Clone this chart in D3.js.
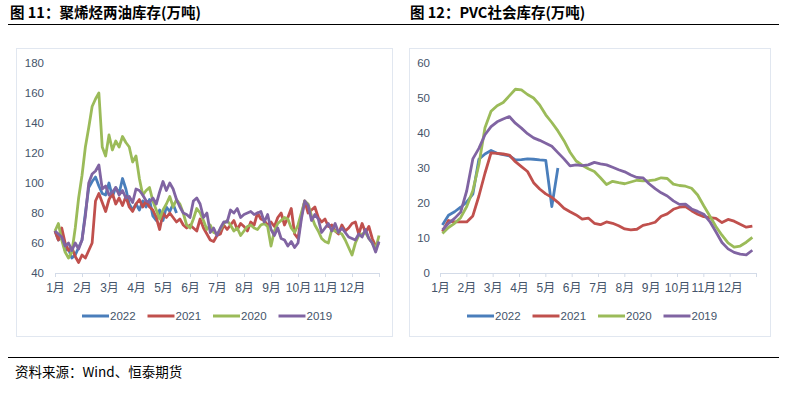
<!DOCTYPE html>
<html>
<head>
<meta charset="utf-8">
<script src="https://cdn.jsdelivr.net/npm/d3@7"></script>
<style>
  body { margin: 0; background: #fff; }
  svg { display: block; }
  .title { font-family: "Noto Sans CJK SC", sans-serif; font-weight: bold; font-size: 14.5px; fill: #000; }
  .src { font-family: "Noto Sans CJK SC", sans-serif; font-size: 13.5px; fill: #000; }
  .tick text, .legend text { font-family: "Liberation Sans", "Noto Sans CJK SC", sans-serif; fill: #44546a; }
</style>
</head>
<body>
<div id="chart"></div>
<script>
var months = ['1月', '2月', '3月', '4月', '5月', '6月', '7月', '8月', '9月', '10月', '11月', '12月']
var years = ['2022', '2021', '2020', '2019']

// 聚烯烃两油库存, 8 readings per month
var pe2022 = [68, 62, 64, 55, 56, 50, 52, 57, 62, 80, 97, 101, 104, 98, 93, 92, 100, 91, 97, 93,
  103, 96, 86, 82, 86, 82, 88, 84, 89, 78, 75, 82, 75, 84, 81, 86, 80]
var pe2021 = [68, 62, 70, 60, 55, 57, 51, 47, 52, 50, 55, 60, 88, 93, 87, 81, 89, 93, 86, 90,
  85, 91, 84, 81, 86, 89, 84, 88, 84, 82, 77, 69, 80, 77, 80, 77, 74, 76, 72, 70,
  72, 70, 68, 76, 70, 66, 62, 61, 65, 66, 72, 69, 72, 75, 69, 73, 71, 68, 74, 72,
  80, 76, 75, 72, 74, 71, 77, 80, 72, 77, 83, 66, 63, 78, 88, 80, 82, 84, 77, 74,
  76, 71, 72, 68, 66, 72, 68, 70, 73, 74, 66, 73, 67, 71, 63, 58, 60]
var pe2020 = [68, 73, 62, 54, 50, 54, 70, 90, 105, 124, 137, 151, 156, 160, 124, 118, 132, 122, 128, 124,
  131, 127, 124, 114, 118, 103, 92, 95, 97, 88, 82, 76, 82, 86, 91, 84, 89, 86, 80, 72,
  70, 76, 83, 80, 75, 69, 72, 67, 66, 69, 73, 75, 72, 68, 70, 65, 68, 71, 72, 70,
  69, 72, 73, 71, 58, 68, 73, 75, 77, 76, 70, 67, 72, 80, 88, 86, 78, 72, 68, 63,
  61, 60, 69, 68, 67, 66, 62, 57, 52, 60, 65, 66, 67, 63, 60, 56, 65]
var pe2019 = [68, 66, 64, 58, 60, 55, 60, 56, 62, 78, 100, 106, 108, 112, 96, 98, 92, 94, 97, 92,
  95, 90, 91, 87, 96, 95, 92, 88, 87, 90, 86, 94, 101, 95, 100, 96, 89, 84, 80, 79,
  77, 88, 90, 86, 77, 80, 67, 70, 65, 70, 74, 74, 82, 80, 83, 77, 79, 80, 81, 79,
  80, 81, 74, 79, 69, 65, 70, 63, 62, 58, 61, 57, 60, 76, 88, 85, 75, 79, 76, 67,
  70, 73, 68, 73, 67, 70, 67, 64, 63, 62, 66, 64, 69, 63, 60, 54, 61]

// PVC社会库存, weekly
var pvc2022 = [13.7, 16.5, 17.5, 18.8, 20.3, 22.5, 32.5, 34, 35, 34.2, 33.8, 33.5, 32.3, 32.4, 32.6, 32.5,
  32.3, 32.2, 19, 30]
var pvc2021 = [11.8, 15, 14.6, 14.6, 14.6, 16.3, 22, 28.5, 34.3, 34.2, 34, 33.7, 31.8, 30.4, 29, 25.8,
  24, 22.6, 21.6, 20.2, 18.5, 17.5, 16.6, 15.4, 15.7, 14.2, 13.8, 14.6, 14.2, 13.5, 12.6, 12.3,
  12.5, 13.6, 14, 14.5, 16.2, 16.9, 18.2, 18.8, 19, 17.8, 16.8, 16.1, 15.8, 15.6, 14.4, 15.3,
  14.8, 13.9, 13.1, 13.4]
var pvc2020 = [11.3, 13, 14.2, 15.8, 19, 23.5, 31, 41.5, 46.2, 47.8, 48.7, 50.6, 52.5, 52.3, 51, 50,
  48, 45.2, 43, 40.6, 37.8, 34.5, 32, 30.8, 29.8, 29, 27.2, 25.3, 26.2, 25.8, 25.5, 26,
  26.5, 26.3, 26.4, 26.6, 27.2, 27, 25.4, 25, 24.8, 24.2, 22.3, 19.2, 16.3, 13.3, 10.8, 8.6,
  7.4, 7.7, 8.8, 10.2]
var pvc2019 = [12.3, 14.2, 15.6, 17.4, 23.5, 32.6, 35.6, 39.5, 41.8, 43.2, 44, 44.7, 42.8, 41.4, 39.8, 38.6,
  37.9, 37.1, 36.2, 34.4, 32.6, 30.6, 30.9, 30.7, 30.9, 31.6, 31.2, 30.9, 30.2, 29.5, 28.9, 28,
  27.3, 27.2, 25.5, 24.1, 22.9, 22, 20.6, 19.6, 19.7, 18.3, 17.6, 16.8, 14.7, 11.8, 8.7, 6.9,
  5.9, 5.4, 5.2, 6.5]

var peTicks = [40, 60, 80, 100, 120, 140, 160, 180]
var pvcTicks = [0, 10, 20, 30, 40, 50, 60]

var colors = { 2022: '#4a7ebb', 2021: '#c0504d', 2020: '#9bbb59', 2019: '#8064a2' }

var svg = d3.select('#chart').append('svg')
  .attr('width', 786)
  .attr('height', 397)

function lineChart (g, p) {
  var x = d3.scaleLinear().domain([0, 12]).range(p.xRange)
  var y = d3.scaleLinear().domain(d3.extent(p.yTicks)).range([273, 63])

  g.append('rect')
    .attr('x', p.box[0] + 0.5).attr('y', 48.5)
    .attr('width', p.box[1] - p.box[0]).attr('height', 288)
    .attr('fill', 'none')
    .attr('stroke', '#e1e7f0')

  var yAxis = g.append('g')
    .attr('transform', 'translate(' + p.xRange[0] + ',0)')
    .call(d3.axisLeft(y).tickValues(p.yTicks).tickSize(0).tickPadding(p.yPad))
  yAxis.select('.domain').remove()
  yAxis.selectAll('text').style('font-size', '11.5px')

  var xAxis = g.append('g')
    .attr('transform', 'translate(0,273)')
    .call(d3.axisBottom(x).tickValues(d3.range(13)).tickSize(4).tickPadding(6)
      .tickFormat(function (d) { return months[d] || '' }))
  xAxis.select('.domain').attr('stroke', '#d3dbe8')
  xAxis.selectAll('.tick line').attr('stroke', '#d3dbe8')
  xAxis.selectAll('text').style('font-size', '12px')

  var line = d3.line()
    .x(function (d, i) { return x(p.xOf(i)) })
    .y(function (d) { return y(d) })

  g.selectAll('path.series')
    .data(p.series)
    .enter().append('path')
    .attr('class', 'series')
    .attr('d', function (d) { return line(d.values) })
    .attr('fill', 'none')
    .attr('stroke', function (d) { return colors[d.year] })
    .attr('stroke-width', 2.8)
    .attr('stroke-linejoin', 'round')

  var legend = g.selectAll('g.legend')
    .data(p.series)
    .enter().append('g')
    .attr('class', 'legend')
    .attr('transform', function (d, i) { return 'translate(' + (p.legendX + i * 65.5) + ',316)' })
  legend.append('line')
    .attr('x1', 0).attr('x2', 27)
    .attr('stroke', function (d) { return colors[d.year] })
    .attr('stroke-width', 3)
  legend.append('text')
    .attr('x', 28).attr('dy', '0.36em')
    .style('font-size', '11.5px')
    .text(function (d) { return d.year })
}

lineChart(svg.append('g'), {
  box: [16, 392],
  xRange: [55, 379],
  yTicks: peTicks,
  yPad: 11,
  legendX: 82,
  xOf: function (i) { return i / 8 },
  series: [pe2022, pe2021, pe2020, pe2019].map(function (v, i) { return { year: years[i], values: v } })
})

lineChart(svg.append('g'), {
  box: [409, 770],
  xRange: [440, 756],
  yTicks: pvcTicks,
  yPad: 10,
  legendX: 467,
  xOf: function (i) { return (i + 0.4) * 12 / 52 },
  series: [pvc2022, pvc2021, pvc2020, pvc2019].map(function (v, i) { return { year: years[i], values: v } })
})

svg.append('text').attr('class', 'title').attr('x', 10).attr('y', 18).text('图 11：聚烯烃两油库存(万吨)')
svg.append('text').attr('class', 'title').attr('x', 410).attr('y', 18).text('图 12：PVC社会库存(万吨)')

svg.append('line')
  .attr('x1', 8).attr('x2', 779).attr('y1', 24.5).attr('y2', 24.5)
  .attr('stroke', '#000').attr('stroke-width', 1.2)
svg.append('line')
  .attr('x1', 8).attr('x2', 779).attr('y1', 357.5).attr('y2', 357.5)
  .attr('stroke', '#000').attr('stroke-width', 1)

svg.append('text').attr('class', 'src').attr('x', 15).attr('y', 377).text('资料来源：Wind、恒泰期货')
</script>
</body>
</html>
